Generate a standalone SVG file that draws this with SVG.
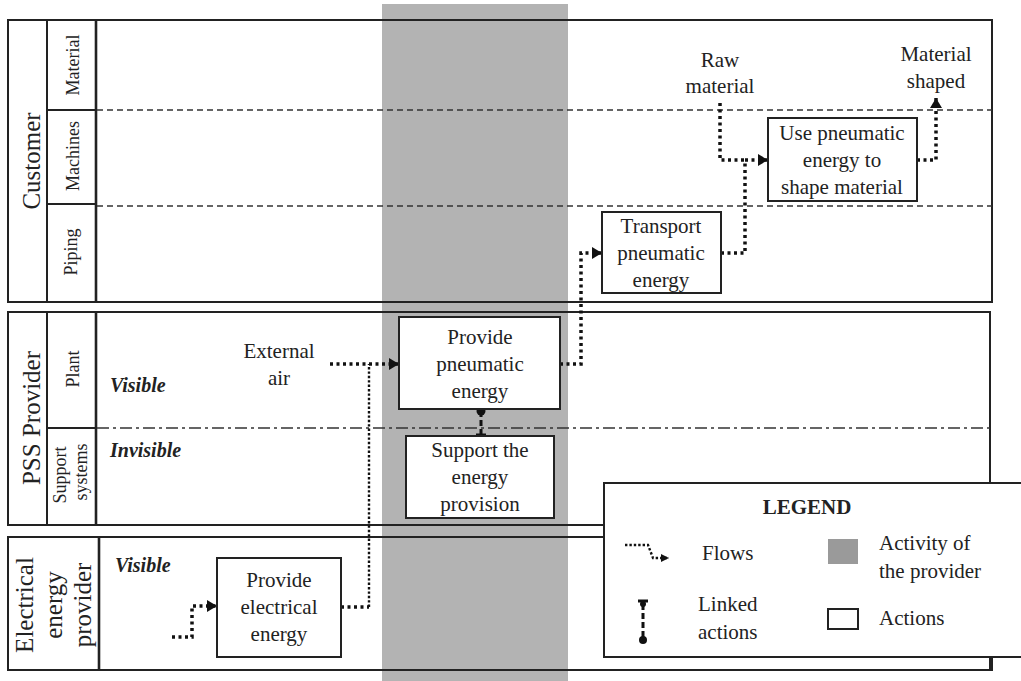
<svg xmlns="http://www.w3.org/2000/svg" width="1021" height="681" viewBox="0 0 1021 681">
  <style>
    .lane { fill: none; stroke: #222; stroke-width: 2; }
    .col { stroke: #222; stroke-width: 2; }
    .colb { stroke: #222; stroke-width: 2.6; }
    .sub { stroke: #333; stroke-width: 1.4; stroke-dasharray: 6 4; }
    .subdd { stroke: #333; stroke-width: 1.4; stroke-dasharray: 12 4 3 4; }
    .act { fill: #fff; stroke: #222; stroke-width: 2; }
    .t { font-family: "Liberation Serif", "Times New Roman", serif; font-size: 21px; fill: #222; text-anchor: middle; }
    .tl { font-family: "Liberation Serif", "Times New Roman", serif; font-size: 21px; fill: #222; }
    .bi { font-family: "Liberation Serif", "Times New Roman", serif; font-size: 20px; font-weight: bold; font-style: italic; fill: #222; }
    .big { font-family: "Liberation Serif", "Times New Roman", serif; font-size: 25px; fill: #222; text-anchor: middle; }
    .sm { font-family: "Liberation Serif", "Times New Roman", serif; font-size: 18px; fill: #222; text-anchor: middle; }
    .flow { fill: none; stroke: #111; stroke-width: 3.5; stroke-dasharray: 3 3.5; }
    .fine { fill: none; stroke: #111; stroke-width: 2.4; stroke-dasharray: 2.4 2; }
  </style>
  <defs>
    <marker id="arrow" viewBox="0 0 10 12" refX="10" refY="6" markerWidth="10" markerHeight="12" markerUnits="userSpaceOnUse" orient="auto">
      <path d="M0,0 L10,6 L0,12 z" fill="#111"/>
    </marker>
    <marker id="arrowSmall" viewBox="0 0 8 8" refX="8" refY="4" markerWidth="8" markerHeight="8" markerUnits="userSpaceOnUse" orient="auto">
      <path d="M0,0 L8,4 L0,8 z" fill="#111"/>
    </marker>
  </defs>

  <rect x="0" y="0" width="1021" height="681" fill="#fff"/>

  <!-- provider activity band -->
  <rect x="382" y="4" width="186" height="677" fill="#b3b3b3"/>

  <!-- swimlanes -->
  <g id="lane-customer">
    <rect class="lane" x="8" y="20" width="984" height="282"/>
    <line class="col" x1="47" y1="20" x2="47" y2="302"/>
    <line class="colb" x1="96" y1="20" x2="96" y2="302"/>
    <line class="col" x1="47" y1="110" x2="96" y2="110"/>
    <line class="col" x1="47" y1="204" x2="96" y2="204"/>
    <line class="sub" x1="97" y1="110" x2="992" y2="110"/>
    <line class="sub" x1="97" y1="206" x2="992" y2="206"/>
    <text class="big" transform="translate(40,161) rotate(-90)">Customer</text>
    <text class="sm" transform="translate(79,65) rotate(-90)">Material</text>
    <text class="sm" transform="translate(79,156) rotate(-90)">Machines</text>
    <text class="sm" transform="translate(77,252) rotate(-90)">Piping</text>
  </g>

  <g id="lane-pss">
    <rect class="lane" x="8" y="312" width="982" height="213"/>
    <line class="col" x1="47" y1="312" x2="47" y2="525"/>
    <line class="colb" x1="96" y1="312" x2="96" y2="525"/>
    <line class="col" x1="47" y1="428" x2="96" y2="428"/>
    <line class="subdd" x1="97" y1="428" x2="990" y2="428"/>
    <text class="big" transform="translate(40,418) rotate(-90)">PSS Provider</text>
    <text class="sm" transform="translate(79,369) rotate(-90)">Plant</text>
    <text class="sm" transform="translate(66,475) rotate(-90)">Support</text>
    <text class="sm" transform="translate(87,472) rotate(-90)">systems</text>
    <text class="bi" x="110" y="392">Visible</text>
    <text class="bi" x="110" y="457">Invisible</text>
  </g>

  <g id="lane-electrical">
    <rect class="lane" x="8" y="537" width="984" height="133"/>
    <line class="colb" x1="99" y1="537" x2="99" y2="670"/>
    <text class="big" transform="translate(33,605) rotate(-90)">Electrical</text>
    <text class="big" transform="translate(62,605) rotate(-90)">energy</text>
    <text class="big" transform="translate(91,605) rotate(-90)">provider</text>
    <text class="bi" x="115" y="572">Visible</text>
  </g>

  <!-- flows between actions -->
  <g id="connectors">
    <path class="flow" d="M172,637 H192 V606 H217" marker-end="url(#arrow)"/>
    <path class="flow" d="M341,607 H369"/>
    <path class="fine" d="M369,607 V364"/>
    <path class="flow" d="M330,364 H399" marker-end="url(#arrow)"/>
    <path class="flow" d="M560,364 H581 V253 H602" marker-end="url(#arrow)"/>
    <path class="flow" d="M721,253 H745 V160 H768" marker-end="url(#arrow)"/>
    <path class="flow" d="M720,103 V160 H745"/>
    <path class="flow" d="M917,160 H936 V98" marker-end="url(#arrow)"/>
    <!-- linked actions -->
    <g id="link-support">
      <line x1="481" y1="411" x2="481" y2="434" stroke="#111" stroke-width="3" stroke-dasharray="6 3"/>
      <circle cx="481" cy="411" r="4.5" fill="#111"/>
      <line x1="476" y1="435" x2="486" y2="435" stroke="#111" stroke-width="3"/>
    </g>
  </g>

  <!-- actions -->
  <g id="node-use">
    <rect class="act" x="768" y="118" width="149" height="83"/>
    <text class="t" x="842" y="140">Use pneumatic</text>
    <text class="t" x="842" y="167">energy to</text>
    <text class="t" x="842" y="194">shape material</text>
  </g>
  <g id="node-transport">
    <rect class="act" x="602" y="212" width="119" height="81"/>
    <text class="t" x="661" y="233">Transport</text>
    <text class="t" x="661" y="260">pneumatic</text>
    <text class="t" x="661" y="287">energy</text>
  </g>
  <g id="node-pneumatic">
    <rect class="act" x="399" y="317" width="161" height="92"/>
    <text class="t" x="480" y="344">Provide</text>
    <text class="t" x="480" y="371">pneumatic</text>
    <text class="t" x="480" y="398">energy</text>
  </g>
  <g id="node-support">
    <rect class="act" x="406" y="436" width="148" height="82"/>
    <text class="t" x="480" y="457">Support the</text>
    <text class="t" x="480" y="484">energy</text>
    <text class="t" x="480" y="511">provision</text>
  </g>
  <g id="node-electrical">
    <rect class="act" x="217" y="558" width="124" height="99"/>
    <text class="t" x="279" y="587">Provide</text>
    <text class="t" x="279" y="614">electrical</text>
    <text class="t" x="279" y="641">energy</text>
  </g>

  <!-- free labels -->
  <g id="label-raw">
    <text class="t" x="720" y="67">Raw</text>
    <text class="t" x="720" y="93">material</text>
  </g>
  <g id="label-shaped">
    <text class="t" x="936" y="61">Material</text>
    <text class="t" x="936" y="88">shaped</text>
  </g>
  <g id="label-air">
    <text class="t" x="279" y="358">External</text>
    <text class="t" x="279" y="385">air</text>
  </g>

  <!-- legend -->
  <g id="legend">
    <rect x="604" y="483" width="430" height="174" fill="#fff" stroke="#222" stroke-width="2"/>
    <line x1="990" y1="657" x2="990" y2="670" stroke="#222" stroke-width="2"/>
    <text class="t" x="807" y="514" font-weight="bold">LEGEND</text>
    <path class="fine" d="M625,545 H648 L653,558 H669" marker-end="url(#arrowSmall)"/>
    <text class="tl" x="702" y="560">Flows</text>
    <rect x="828" y="539" width="30" height="25" fill="#9a9a9a"/>
    <text class="tl" x="879" y="550">Activity of</text>
    <text class="tl" x="879" y="578">the provider</text>
    <line x1="643" y1="604" x2="643" y2="638" stroke="#111" stroke-width="3" stroke-dasharray="6 3"/>
    <line x1="638" y1="601" x2="648" y2="601" stroke="#111" stroke-width="3"/>
    <circle cx="643" cy="604" r="3" fill="#111"/>
    <circle cx="643" cy="640" r="4" fill="#111"/>
    <text class="tl" x="698" y="611">Linked</text>
    <text class="tl" x="698" y="639">actions</text>
    <rect x="828" y="609" width="30" height="20" fill="#fff" stroke="#222" stroke-width="2"/>
    <text class="tl" x="879" y="625">Actions</text>
  </g>
</svg>
